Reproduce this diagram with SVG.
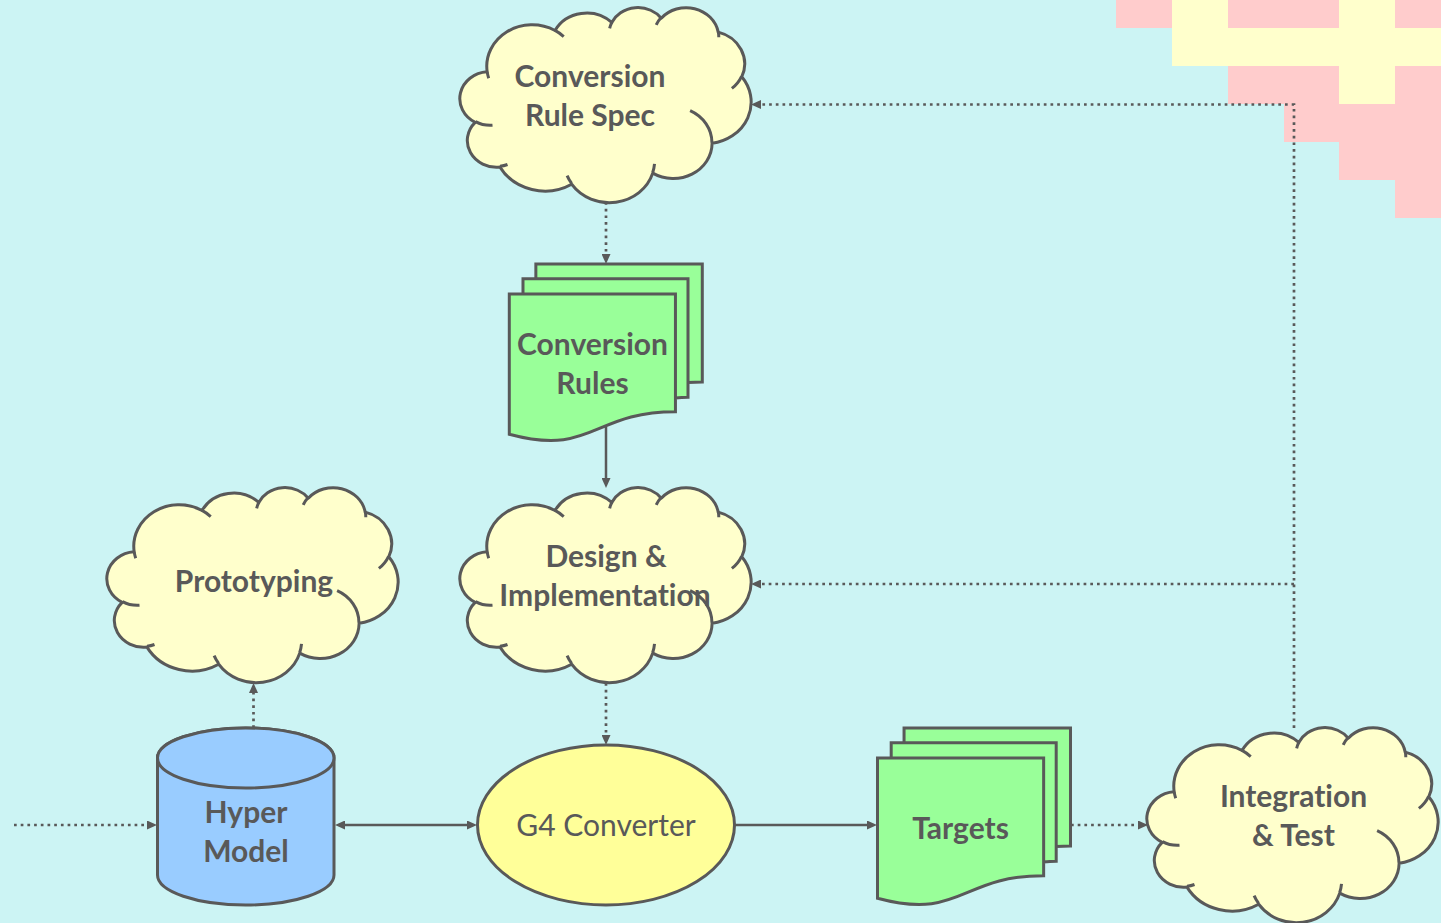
<svg xmlns="http://www.w3.org/2000/svg" xmlns:xlink="http://www.w3.org/1999/xlink" width="1441" height="923" viewBox="0 0 1441 923">
<style>
.ol{stroke:#595959;stroke-width:3;stroke-linejoin:round}
.nss{vector-effect:non-scaling-stroke}
.cloud{fill:#FFFFCC}
.inner{fill:none}
.doc{fill:#99FF99;stroke-linejoin:miter}
.lbl{font-family:Lato,"Liberation Sans",sans-serif;font-weight:bold;font-size:30px;fill:#595959;text-anchor:middle;font-variant-ligatures:none;font-feature-settings:"liga" 0}
.reg{font-weight:normal}
.solid{fill:none;stroke:#595959;stroke-width:2.5}
.dot{fill:none;stroke:#595959;stroke-width:2.7;stroke-dasharray:2.7 4}
.pk{fill:#FFCCCC}
.yl{fill:#FFFFCC}
</style>
<defs>
<path id="cloudShape" class="nss" vector-effect="non-scaling-stroke" d="M3900,14370 A6753,9190 0 0 1 14004,5202 A5333,7267 0 0 1 22457,3428 A4365,5945 0 0 1 29835,2476 A4857,6595 0 0 1 38320,5571 A5333,7273 0 0 1 41821,15455 A6775,9220 0 0 1 37406,30197 A5785,7867 0 0 1 28558,36807 A6752,9215 0 0 1 16484,39262 A7720,10543 0 0 1 5807,35465 A4360,5918 0 0 1 2116,25544 A4345,5945 0 0 1 3900,14370 Z"/>
<path id="cloudInner" class="nss" vector-effect="non-scaling-stroke" d="M4693,26177 A4345,5945 0 0 1 2160,25380 M6928,34899 A4360,5918 0 0 1 5820,35280 M16478,39090 A6752,9215 0 0 1 15809,37347 M28827,34751 A6752,9215 0 0 1 28560,36660 M34129,22954 A5785,7867 0 0 1 37380,30090 M41798,15354 A5333,7273 0 0 1 40350,18030 M38324,5426 A4857,6595 0 0 1 38400,6690 M29078,3952 A4857,6595 0 0 1 29819,2341 M22141,4720 A4365,5945 0 0 1 22500,3331 M14000,5192 A6753,9190 0 0 1 15301,6542 M4127,15789 A6753,9190 0 0 1 3900,14371"/>
<path id="multiDoc" class="nss" vector-effect="non-scaling-stroke" d="M0,20782 C9298,23542 9298,18022 18595,18022 L18595,3675 L0,3675 Z M1532,3675 L1532,1815 L20000,1815 L20000,16252 C19298,16252 18595,16352 18595,16352 L18595,3675 Z M2972,1815 L2972,0 L21600,0 L21600,14392 C20800,14392 20000,14467 20000,14467 L20000,1815 Z"/>
<marker id="arr" viewBox="0 0 10 9" refX="2" refY="4.5" markerWidth="10" markerHeight="9" markerUnits="userSpaceOnUse" orient="auto-start-reverse">
<path d="M0,0 L10,4.5 L0,9 Z" fill="#595959"/>
</marker>
</defs>

<rect x="0" y="0" width="1441" height="923" fill="#CCF4F4"/>

<g id="backdrop">
<rect class="yl" x="1172" y="0" width="56" height="66"/>
<rect class="yl" x="1172" y="28" width="269" height="38"/>
<rect class="yl" x="1339" y="0" width="56" height="104"/>
<rect class="pk" x="1116" y="0" width="56" height="28"/>
<rect class="pk" x="1228" y="0" width="111" height="28"/>
<rect class="pk" x="1395" y="0" width="46" height="28"/>
<rect class="pk" x="1228" y="66" width="111" height="38"/>
<rect class="pk" x="1395" y="66" width="46" height="38"/>
<rect class="pk" x="1284" y="104" width="157" height="38"/>
<rect class="pk" x="1339" y="142" width="102" height="38"/>
<rect class="pk" x="1395" y="180" width="46" height="38"/>
</g>

<g id="connectors">
<path class="dot" d="M606,202 L606,256" marker-end="url(#arr)"/>
<path class="solid" d="M606,427 L606,480" marker-end="url(#arr)"/>
<path class="dot" d="M606,683 L606,737" marker-end="url(#arr)"/>
<path class="dot" d="M253.5,728 L253.5,691" marker-end="url(#arr)"/>
<path class="dot" d="M14,825 L149,825" marker-end="url(#arr)"/>
<path class="solid" d="M343,825 L469,825" marker-start="url(#arr)" marker-end="url(#arr)"/>
<path class="solid" d="M735,825 L869,825" marker-end="url(#arr)"/>
<path class="dot" d="M1071,825 L1140,825" marker-end="url(#arr)"/>
<path class="dot" d="M1294,728 L1294,104.5 L759,104.5" marker-end="url(#arr)"/>
<path class="dot" d="M1294,584 L759,584" marker-end="url(#arr)"/>
</g>

<g id="spec">
<g transform="translate(461,7) scale(0.0067130,0.0045139)">
<use xlink:href="#cloudShape" class="ol cloud"/>
<use xlink:href="#cloudInner" class="ol inner"/>
</g>
<text class="lbl" x="590" y="87">Conversion</text>
<text class="lbl" x="590" y="126">Rule Spec</text>
</g>

<g id="rules">
<use xlink:href="#multiDoc" class="ol doc" transform="translate(509.3,264) scale(0.008935,0.008194)"/>
<text class="lbl" x="592.5" y="355">Conversion</text>
<text class="lbl" x="592.5" y="394">Rules</text>
</g>

<g id="prototyping">
<g transform="translate(108,487) scale(0.0067130,0.0045139)">
<use xlink:href="#cloudShape" class="ol cloud"/>
<use xlink:href="#cloudInner" class="ol inner"/>
</g>
<text class="lbl" x="254" y="592">Prototyping</text>
</g>

<g id="design">
<g transform="translate(461,487) scale(0.0067130,0.0045139)">
<use xlink:href="#cloudShape" class="ol cloud"/>
<use xlink:href="#cloudInner" class="ol inner"/>
</g>
<text class="lbl" x="606" y="567">Design &amp;</text>
<text class="lbl" x="605" y="606">Implementation</text>
</g>

<g id="hypermodel">
<path class="ol" fill="#99CCFF" d="M157.5,758 L157.5,875 A88.25,30 0 0 0 334,875 L334,758 A88.25,30 0 0 0 157.5,758 Z"/>
<ellipse class="ol" fill="#99CCFF" cx="245.75" cy="758" rx="88.25" ry="30"/>
<text class="lbl" x="246" y="823">Hyper</text>
<text class="lbl" x="246" y="862">Model</text>
</g>

<g id="g4converter">
<ellipse class="ol" fill="#FFFF99" cx="606" cy="825" rx="128.5" ry="80"/>
<text class="lbl reg" x="606" y="836">G4 Converter</text>
</g>

<g id="targets">
<use xlink:href="#multiDoc" class="ol doc" transform="translate(877.5,728) scale(0.008935,0.008194)"/>
<text class="lbl" x="960.5" y="839">Targets</text>
</g>

<g id="integration">
<g transform="translate(1148,727) scale(0.0067130,0.0045139)">
<use xlink:href="#cloudShape" class="ol cloud"/>
<use xlink:href="#cloudInner" class="ol inner"/>
</g>
<text class="lbl" x="1293.5" y="807">Integration</text>
<text class="lbl" x="1293.5" y="846">&amp; Test</text>
</g>
</svg>
